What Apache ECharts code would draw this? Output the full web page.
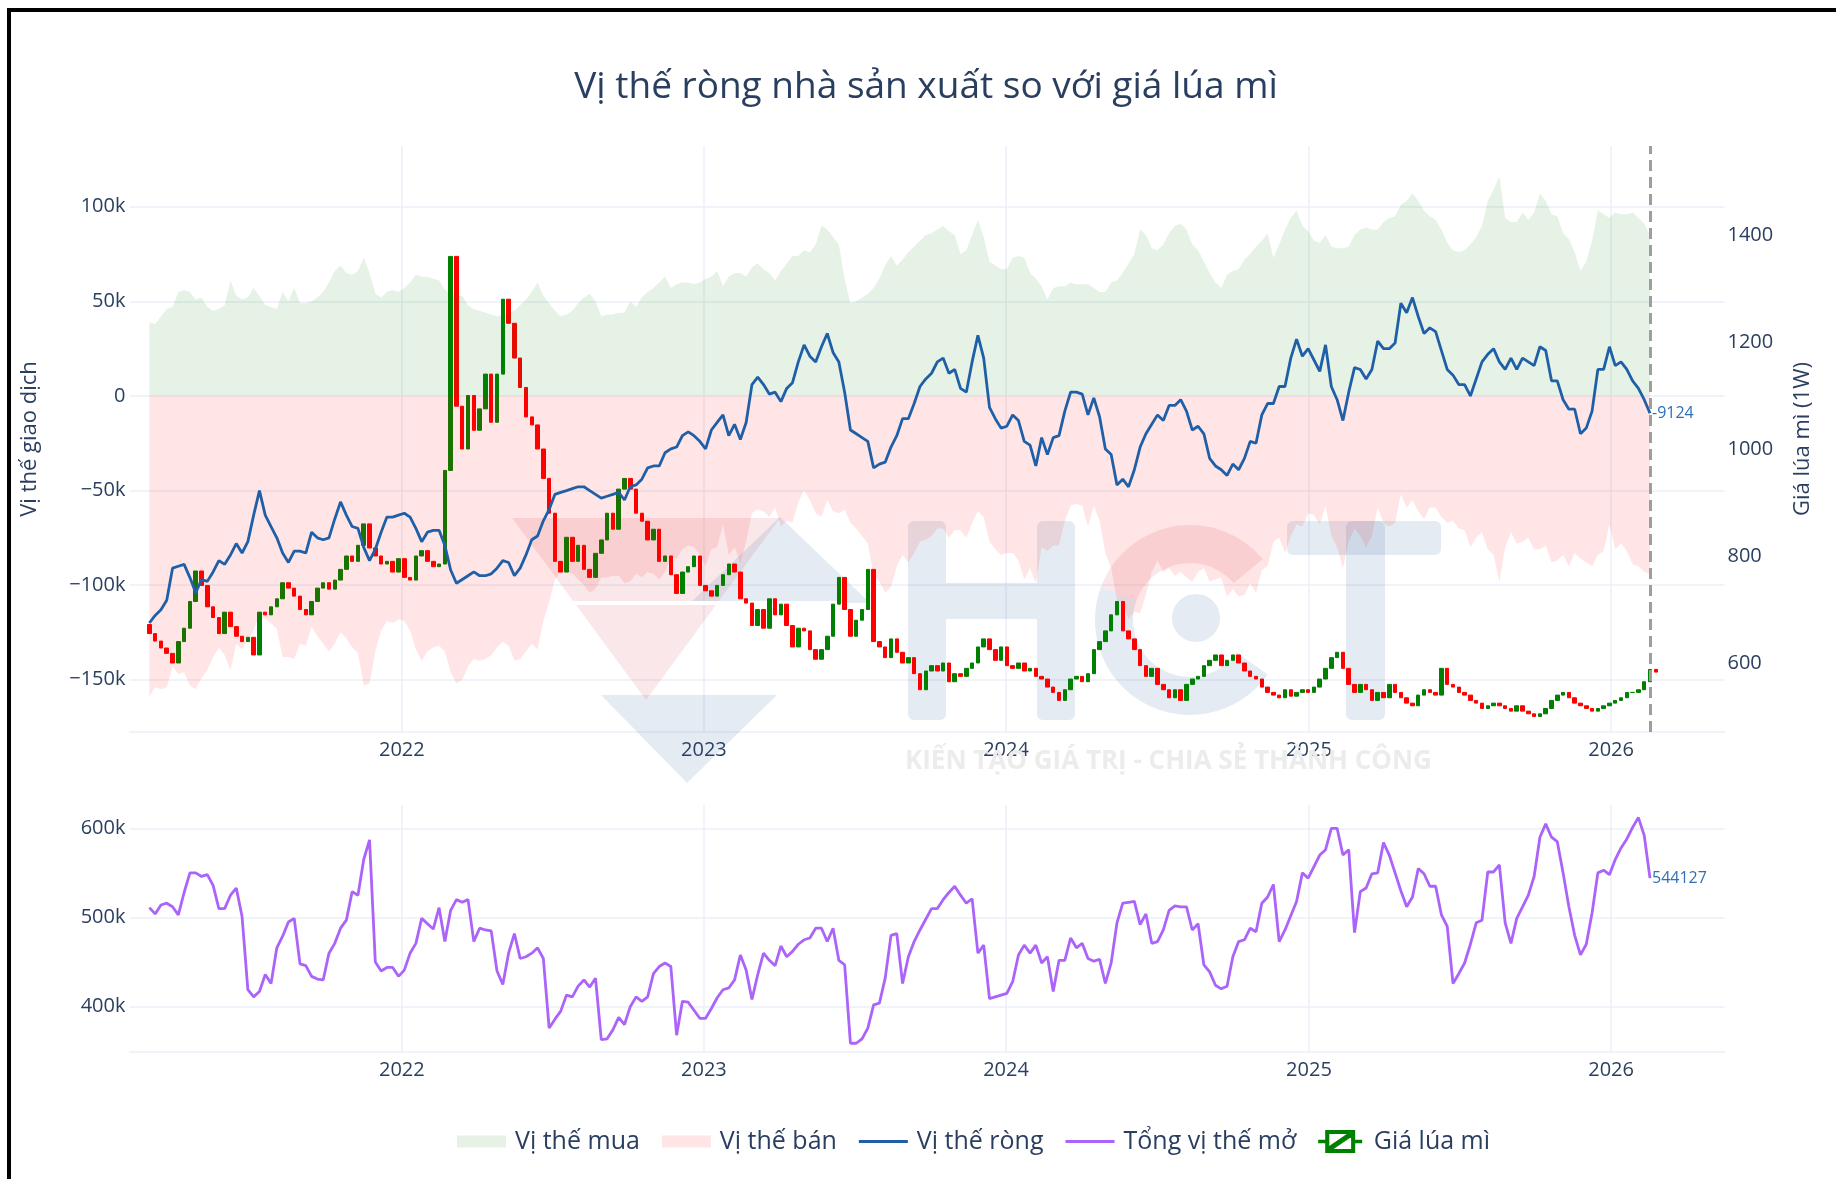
<!DOCTYPE html>
<html>
<head>
<meta charset="utf-8">
<title>Vị thế ròng nhà sản xuất so với giá lúa mì</title>
<script src="https://cdn.jsdelivr.net/npm/echarts@6/dist/echarts.min.js"></script>
<style>
    html, body { margin: 0; padding: 0; background: #fff; }
    #chart { width: 1836px; height: 1179px; }
</style>
</head>
<body>
<div id="chart"></div>
<script>
const varFont = '"Open Sans", Verdana, Arial, sans-serif';
const textColor = '#2a3f5f';
const gridColor = '#EBF0F8';

// weekly COT report dates, first report on 2021-03-02 (year, month index, day)
const firstWeek = [2021, 2, 2];

// producer positions, thousands of contracts
const longPos = [
    39, 38, 42, 46, 47, 55, 56, 55, 51, 52,
    47, 45, 46, 48, 61, 53, 51, 52, 57, 53,
    48, 47, 46, 55, 50, 57, 49, 49, 50, 52,
    55, 60, 66, 69, 65, 64, 66, 73, 65, 54,
    52, 55, 56, 55, 57, 60, 64, 63, 63, 62,
    61, 56, 54, 53, 53, 48, 46, 45, 44, 43,
    42, 43, 44, 45, 48, 51, 55, 60, 53, 49,
    45, 42, 43, 45, 49, 52, 54, 50, 42, 43,
    43, 44, 44, 50, 47, 52, 55, 57, 60, 63,
    57, 59, 60, 60, 59, 60, 62, 63, 66, 58,
    63, 65, 65, 63, 68, 70, 67, 65, 61, 66,
    70, 74, 74, 77, 76, 80, 90, 88, 84, 80,
    62, 49, 50, 52, 54, 57, 62, 69, 74, 69,
    72, 76, 79, 82, 85, 86, 88, 90, 87, 85,
    75, 77, 85, 93, 84, 71, 69, 67, 67, 73,
    74, 73, 65, 62, 58, 51, 57, 58, 58, 60,
    59, 59, 59, 57, 55, 55, 60, 61, 65, 70,
    75, 88, 85, 78, 77, 80, 86, 90, 91, 88,
    80, 77, 71, 65, 60, 57, 64, 66, 67, 72,
    75, 79, 82, 86, 73, 80, 88, 94, 98, 90,
    87, 82, 81, 85, 79, 78, 78, 79, 85, 88,
    89, 88, 88, 92, 94, 95, 101, 103, 107, 103,
    98, 95, 93, 88, 81, 77, 76, 77, 80, 84,
    90, 103, 109, 116, 94, 92, 92, 97, 93, 97,
    107, 103, 96, 95, 86, 83, 76, 66, 71, 82,
    98, 96, 94, 97, 96, 96, 97, 94, 91, 85
];

const shortPos = [
    -159, -154, -155, -154, -143, -147, -146, -153, -155, -149,
    -145, -138, -133, -137, -145, -131, -134, -129, -124, -115,
    -118, -120, -123, -138, -138, -139, -131, -132, -122, -127,
    -131, -135, -131, -125, -128, -133, -136, -153, -152, -135,
    -124, -119, -120, -118, -119, -124, -134, -140, -135, -133,
    -132, -135, -146, -152, -150, -143, -139, -140, -139, -137,
    -133, -130, -132, -140, -139, -135, -131, -134, -119, -109,
    -97, -93, -93, -94, -97, -100, -104, -102, -96, -96,
    -95, -95, -99, -98, -94, -96, -93, -94, -97, -93,
    -85, -86, -81, -79, -80, -84, -90, -81, -80, -68,
    -84, -80, -88, -77, -62, -60, -61, -64, -59, -69,
    -66, -67, -56, -50, -55, -62, -64, -55, -61, -62,
    -60, -67, -70, -74, -78, -95, -98, -104, -101, -90,
    -84, -88, -83, -77, -76, -74, -70, -70, -75, -71,
    -71, -75, -67, -61, -64, -77, -81, -84, -83, -83,
    -87, -97, -91, -99, -80, -82, -79, -79, -66, -58,
    -57, -58, -69, -58, -66, -83, -91, -108, -109, -118,
    -114, -115, -105, -93, -87, -93, -91, -95, -93, -96,
    -98, -93, -91, -98, -97, -96, -106, -102, -106, -105,
    -99, -104, -92, -90, -77, -75, -83, -74, -68, -69,
    -62, -63, -68, -58, -74, -80, -91, -77, -70, -74,
    -80, -74, -59, -67, -69, -67, -52, -59, -55, -61,
    -65, -59, -59, -64, -67, -66, -70, -71, -80, -75,
    -72, -81, -84, -98, -80, -72, -78, -77, -75, -81,
    -81, -79, -88, -87, -84, -90, -83, -86, -88, -90,
    -84, -82, -68, -81, -78, -82, -89, -90, -93, -94
];

const netPos = [
    -120, -116, -113, -108, -91, -90, -89, -96, -104, -97,
    -98, -93, -87, -89, -84, -78, -83, -77, -63, -50,
    -63, -69, -75, -83, -88, -82, -82, -83, -72, -75,
    -76, -75, -65, -56, -63, -69, -70, -80, -87, -81,
    -72, -64, -64, -63, -62, -64, -70, -77, -72, -71,
    -71, -79, -92, -99, -97, -95, -93, -95, -95, -94,
    -91, -87, -88, -95, -91, -84, -76, -74, -66, -60,
    -52, -51, -50, -49, -48, -48, -50, -52, -54, -53,
    -52, -51, -55, -48, -47, -44, -38, -37, -37, -30,
    -28, -27, -21, -19, -21, -24, -28, -18, -14, -10,
    -21, -15, -23, -14, 6, 10, 6, 1, 2, -3,
    4, 7, 18, 27, 21, 18, 26, 33, 23, 18,
    2, -18, -20, -22, -24, -38, -36, -35, -27, -21,
    -12, -12, -4, 5, 9, 12, 18, 20, 12, 14,
    4, 2, 18, 32, 20, -6, -12, -17, -16, -10,
    -13, -24, -26, -37, -22, -31, -22, -21, -8, 2,
    2, 1, -10, -1, -11, -28, -31, -47, -44, -48,
    -39, -27, -20, -15, -10, -13, -5, -5, -2, -8,
    -18, -16, -20, -33, -37, -39, -42, -36, -39, -33,
    -24, -25, -10, -4, -4, 5, 5, 20, 30, 21,
    25, 19, 13, 27, 5, -2, -13, 2, 15, 14,
    9, 14, 29, 25, 25, 28, 49, 44, 52, 42,
    33, 36, 34, 24, 14, 11, 6, 6, 0, 9,
    18, 22, 25, 18, 14, 20, 14, 20, 18, 16,
    26, 24, 8, 8, -2, -7, -7, -20, -17, -8,
    14, 14, 26, 16, 18, 14, 8, 4, -2, -9.124
];

// total open interest, thousands of contracts
const openInterest = [
    511, 504, 514, 516, 512, 503, 528, 550, 550, 546,
    548, 536, 510, 510, 525, 533, 501, 419, 411, 417,
    436, 426, 466, 479, 495, 499, 448, 446, 434, 431,
    430, 460, 471, 488, 497, 529, 525, 565, 587, 450,
    440, 444, 444, 434, 441, 460, 471, 499, 493, 487,
    511, 473, 508, 520, 517, 520, 473, 488, 486, 485,
    440, 425, 460, 482, 454, 456, 460, 466, 454, 376,
    386, 395, 413, 411, 423, 430, 422, 432, 363, 364,
    374, 388, 380, 400, 411, 406, 411, 437, 445, 449,
    445, 368, 406, 405, 396, 387, 387, 398, 410, 419,
    421, 430, 458, 441, 408, 436, 460, 452, 446, 468,
    456, 462, 470, 475, 477, 488, 488, 473, 488, 452,
    447, 359, 359, 364, 376, 402, 404, 432, 480, 482,
    426, 456, 473, 486, 498, 510, 510, 520, 528, 535,
    525, 516, 521, 460, 469, 409, 411, 413, 415, 428,
    458, 469, 460, 469, 449, 456, 417, 452, 452, 477,
    466, 471, 454, 451, 453, 426, 449, 494, 516, 517,
    518, 492, 504, 471, 473, 486, 508, 513, 512, 512,
    486, 493, 447, 439, 424, 420, 423, 456, 473, 475,
    488, 484, 516, 523, 537, 473, 486, 502, 518, 550,
    544, 557, 570, 576, 600, 600, 570, 576, 483, 529,
    533, 549, 550, 584, 570, 550, 530, 512, 523, 555,
    549, 535, 535, 503, 490, 426, 437, 449, 470, 494,
    497, 551, 551, 559, 494, 471, 499, 512, 525, 546,
    590, 605, 590, 585, 550, 512, 480, 458, 470, 505,
    550, 553, 548, 565, 578, 588, 601, 612, 592, 544.127
];

// weekly wheat candles; each week opens at the previous close
const wheatFirstOpen = 672;
const wheatClose = [
    655, 641, 628, 618, 600, 640, 665, 715, 772, 745,
    705, 685, 655, 695, 668, 650, 640, 648, 615, 695,
    690, 705, 720, 750, 740, 725, 700, 690, 715, 740,
    750, 738, 755, 775, 800, 790, 820, 860, 815, 800,
    785, 790, 770, 795, 760, 755, 800, 810, 790, 780,
    785, 960, 1360, 1080, 1000, 1100, 1035, 1075, 1140, 1050,
    1140, 1280, 1235, 1170, 1115, 1060, 1045, 1000, 945, 880,
    790, 770, 835, 790, 820, 775, 760, 805, 830, 880,
    850, 925, 945, 925, 880, 865, 830, 850, 790, 800,
    765, 730, 770, 780, 800, 745, 735, 725, 745, 765,
    785, 770, 720, 712, 670, 700, 665, 720, 690, 710,
    670, 630, 665, 660, 625, 607, 625, 650, 710, 760,
    700, 650, 680, 700, 775, 640, 630, 610, 645, 620,
    600, 610, 580, 550, 585, 595, 585, 600, 565, 580,
    575, 590, 600, 630, 645, 625, 605, 630, 595, 590,
    600, 585, 590, 575, 570, 555, 545, 530, 550, 570,
    575, 565, 580, 625, 640, 660, 690, 715, 660, 645,
    625, 595, 575, 590, 560, 550, 535, 550, 530, 560,
    570, 575, 595, 605, 615, 595, 605, 615, 600, 585,
    575, 570, 555, 545, 540, 535, 550, 538, 545, 550,
    545, 555, 570, 590, 610, 620, 590, 560, 545, 560,
    550, 530, 545, 535, 560, 545, 535, 525, 520, 540,
    550, 545, 540, 590, 560, 555, 545, 540, 530, 525,
    515, 520, 525, 520, 515, 510, 520, 510, 505, 500,
    505, 515, 530, 540, 545, 535, 525, 520, 515, 510,
    515, 520, 525, 530, 535, 545, 545, 550, 565, 588,
    583
];

const leftTicks = [-150, -100, -50, 0, 50, 100];
const rightTicks = [600, 800, 1000, 1200, 1400];
const oiTicks = [400, 500, 600];
const yearTicks = [2022, 2023, 2024, 2025, 2026];

//-----------------------------------------------------------------------------
function weekDate(i) {
    return new Date(firstWeek[0], firstWeek[1], firstWeek[2] + 7 * i).getTime();
}

function kLabel(v) {
    if (v === 0) return '0';
    return (v < 0 ? '\u2212' : '') + Math.abs(v) + 'k';
}

const yearValues = yearTicks.map(y => new Date(y, 0, 1).getTime());
const lastDate = weekDate(netPos.length - 1);

// dates are plotted on a value axis (timestamps) so the year ticks can be placed exactly
function dateAxis(gridIndex) {
    return {
        type: 'value',
        gridIndex: gridIndex,
        min: new Date(2021, 1, 6).getTime(),
        max: new Date(2026, 4, 18).getTime(),
        axisLine: { show: true, onZero: false, lineStyle: { color: gridColor, width: 1.5 } },
        axisTick: { show: false, customValues: yearValues },
        axisLabel: {
            customValues: yearValues,
            formatter: v => String(new Date(v).getFullYear()),
            color: textColor,
            fontSize: 20,
            margin: 8,
        },
        splitLine: { show: true, lineStyle: { color: gridColor, width: 1.5 } },
    };
}

const candleData = wheatClose.map((c, i) => {
    const o = i === 0 ? wheatFirstOpen : wheatClose[i - 1];
    return [weekDate(i), o, c, Math.min(o, c), Math.max(o, c)];
});

// legend icons, all drawn in a 49 x 21 box
const candleIcon = 'path://M10,0 L50,0 L50,30 L10,30 Z M13,3 L13,27 L47,27 L47,3 Z ' +
    'M13,24 L44,3 L47,3 L47,6 L16,27 L13,27 Z M0,14 L10,14 L10,16 L0,16 Z M50,14 L60,14 L60,16 L50,16 Z';
const fillIcon = 'path://M0,0 M49,21 M0,4.5 L49,4.5 L49,16.5 L0,16.5 Z';
const lineIcon = 'path://M0,0 M49,21 M0,9 L49,9 L49,12 L0,12 Z';

// watermark (HCT logo) drawn under the series
const markBlue = 'rgba(40,90,160,0.12)';
const markPink = 'rgba(210,60,80,0.12)';
const watermark = [
    { type: 'polygon', z: 1, shape: { points: [[512, 518], [780, 518], [646, 700]] }, style: { fill: markPink } },
    { type: 'polygon', z: 1, shape: { points: [[780, 517], [690, 603], [870, 603]] }, style: { fill: markBlue } },
    { type: 'polygon', z: 1, shape: { points: [[601, 695], [777, 695], [687, 783]] }, style: { fill: markBlue } },
    { type: 'rect', z: 1, shape: { x: 512, y: 601, width: 325, height: 4 }, style: { fill: '#fff' } },
    { type: 'rect', z: 1, shape: { x: 908, y: 521, width: 38, height: 199, r: 6 }, style: { fill: markBlue } },
    { type: 'rect', z: 1, shape: { x: 1037, y: 521, width: 38, height: 199, r: 6 }, style: { fill: markBlue } },
    { type: 'rect', z: 1, shape: { x: 946, y: 583, width: 91, height: 36 }, style: { fill: markBlue } },
    { type: 'sector', z: 1, shape: { cx: 1190, cy: 620, r: 95, r0: 57, startAngle: 35 * Math.PI / 180, endAngle: 200 * Math.PI / 180 }, style: { fill: markBlue } },
    { type: 'sector', z: 1, shape: { cx: 1190, cy: 620, r: 95, r0: 57, startAngle: 200 * Math.PI / 180, endAngle: 320 * Math.PI / 180 }, style: { fill: markPink } },
    { type: 'circle', z: 1, shape: { cx: 1196, cy: 618, r: 24 }, style: { fill: markBlue } },
    { type: 'rect', z: 1, shape: { x: 1287, y: 521, width: 154, height: 34, r: 6 }, style: { fill: markBlue } },
    { type: 'rect', z: 1, shape: { x: 1346, y: 521, width: 39, height: 199, r: 6 }, style: { fill: markBlue } },
    {
        type: 'text', z: 1, x: 905, y: 762,
        style: { text: 'KIẾN TẠO GIÁ TRỊ - CHIA SẺ THÀNH CÔNG', fill: '#ececec', font: 'bold 26px "Open Sans"', verticalAlign: 'middle' }
    },
];

// screenshot frame
const frame = [
    { type: 'rect', z: 10, shape: { x: 7, y: 8, width: 4, height: 1171 }, style: { fill: '#000' } },
    { type: 'rect', z: 10, shape: { x: 7, y: 8, width: 1829, height: 4 }, style: { fill: '#000' } },
];

var option = {
    animation: false,
    backgroundColor: '#fff',
    textStyle: {
        fontFamily: varFont,
    },
    title: {
        text: 'Vị thế ròng nhà sản xuất so với giá lúa mì',
        left: 926,
        top: 69,
        textAlign: 'center',
        padding: 0,
        textStyle: { fontSize: 37, fontWeight: 'normal', color: textColor, fontFamily: varFont },
    },
    legend: {
        left: 457,
        top: 1129,
        padding: 0,
        itemWidth: 49,
        itemHeight: 21,
        itemGap: 22,
        selectedMode: false,
        textStyle: { fontSize: 25, color: textColor, padding: [0, 0, 0, 4] },
        data: [
            { name: 'Vị thế mua', icon: fillIcon },
            { name: 'Vị thế bán', icon: fillIcon },
            { name: 'Vị thế ròng', icon: lineIcon },
            { name: 'Tổng vị thế mở', icon: lineIcon },
            { name: 'Giá lúa mì', icon: candleIcon },
        ],
    },
    grid: [
        { left: 129.5, right: 111.5, top: 146, height: 586 },
        { left: 129.5, right: 111.5, top: 805, height: 247 },
    ],
    xAxis: [dateAxis(0), dateAxis(1)],
    yAxis: [
        {
            type: 'value',
            gridIndex: 0,
            min: -177.6,
            max: 132.1,
            name: 'Vị thế giao dịch',
            nameLocation: 'middle',
            nameGap: 89,
            nameTextStyle: { fontSize: 22, color: textColor },
            axisLine: { show: false },
            axisTick: { show: false, customValues: leftTicks },
            axisLabel: { customValues: leftTicks, formatter: kLabel, margin: 4, fontSize: 20, color: textColor },
            splitLine: { show: true, lineStyle: { color: gridColor, width: 1.5 } },
        },
        {
            type: 'value',
            gridIndex: 0,
            position: 'right',
            min: 471,
            max: 1566.4,
            name: 'Giá lúa mì (1W)',
            nameLocation: 'middle',
            nameRotate: 90,
            nameGap: 67,
            nameTextStyle: { fontSize: 22, color: textColor },
            axisLine: { show: false },
            axisTick: { show: false, customValues: rightTicks },
            axisLabel: { customValues: rightTicks, formatter: v => String(v), margin: 3, fontSize: 20, color: textColor },
            splitLine: { show: false },
        },
        {
            type: 'value',
            gridIndex: 1,
            min: 349.2,
            max: 626.1,
            axisLine: { show: false },
            axisTick: { show: false, customValues: oiTicks },
            axisLabel: { customValues: oiTicks, formatter: v => v + 'k', margin: 4, fontSize: 20, color: textColor },
            splitLine: { show: true, lineStyle: { color: gridColor, width: 1.5 } },
        },
    ],
    graphic: { elements: watermark.concat(frame) },
    series: [
        {
            name: 'Vị thế mua',
            type: 'line',
            xAxisIndex: 0,
            yAxisIndex: 0,
            symbol: 'none',
            data: longPos.map((v, i) => [weekDate(i), v]),
            lineStyle: { width: 0 },
            itemStyle: { color: 'rgba(0,128,0,0.1)' },
            areaStyle: { color: 'rgba(0,128,0,0.1)', opacity: 1 },
        },
        {
            name: 'Vị thế bán',
            type: 'line',
            xAxisIndex: 0,
            yAxisIndex: 0,
            symbol: 'none',
            data: shortPos.map((v, i) => [weekDate(i), v]),
            lineStyle: { width: 0 },
            itemStyle: { color: 'rgba(255,0,0,0.1)' },
            areaStyle: { color: 'rgba(255,0,0,0.1)', opacity: 1 },
        },
        {
            name: 'Vị thế ròng',
            type: 'line',
            xAxisIndex: 0,
            yAxisIndex: 0,
            symbol: 'none',
            data: netPos.map((v, i) => [weekDate(i), v]),
            lineStyle: { color: '#1f5fa8', width: 2.8 },
            itemStyle: { color: '#1f5fa8' },
            endLabel: {
                show: true,
                distance: 2,
                formatter: p => String(Math.round(p.value[1] * 1000)),
                color: '#2f6fb5',
                fontSize: 16,
            },
            markLine: {
                silent: true,
                symbol: 'none',
                label: { show: false },
                lineStyle: { type: [11, 6], color: '#9e9e9e', width: 3 },
                data: [{ xAxis: lastDate }],
            },
        },
        {
            name: 'Giá lúa mì',
            type: 'candlestick',
            xAxisIndex: 0,
            yAxisIndex: 1,
            barWidth: 4,
            data: candleData,
            itemStyle: {
                color: '#008000',
                color0: '#ff0000',
                borderColor: '#008000',
                borderColor0: '#ff0000',
                borderWidth: 1,
            },
        },
        {
            name: 'Tổng vị thế mở',
            type: 'line',
            xAxisIndex: 1,
            yAxisIndex: 2,
            symbol: 'none',
            data: openInterest.map((v, i) => [weekDate(i), v]),
            lineStyle: { color: '#ab63fa', width: 2.8 },
            itemStyle: { color: '#ab63fa' },
            endLabel: {
                show: true,
                distance: 2,
                formatter: p => String(Math.round(p.value[1] * 1000)),
                color: '#2f6fb5',
                fontSize: 16,
            },
        },
    ],
};

var myChart = echarts.init(document.getElementById('chart'));
myChart.setOption(option);
</script>
</body>
</html>
